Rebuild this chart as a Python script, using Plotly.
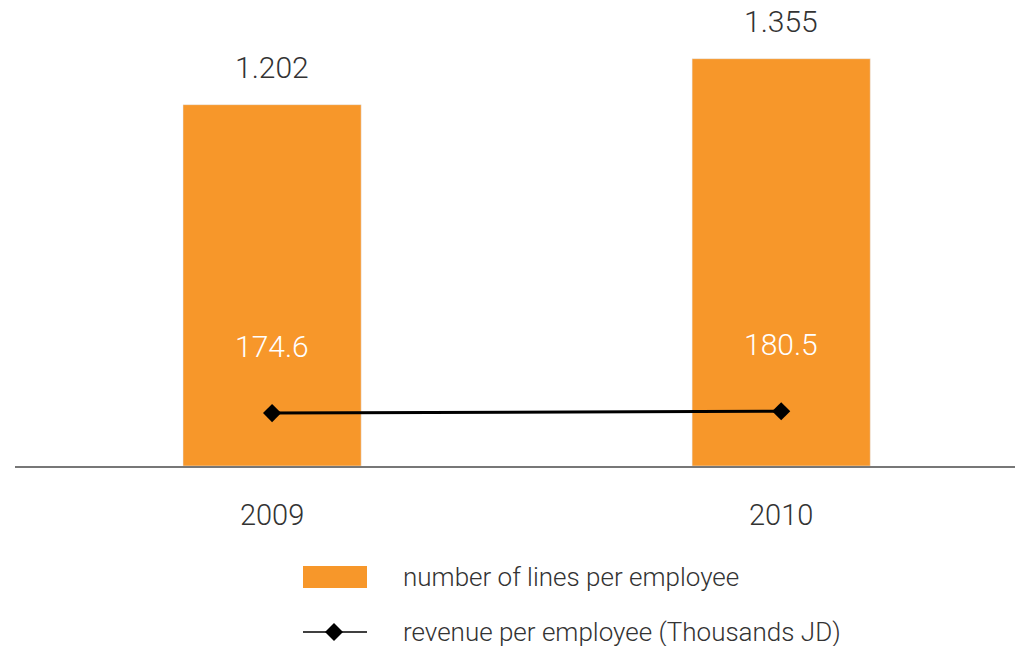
import plotly.graph_objects as go

years = ["2009", "2010"]
lines_per_employee = [1.202, 1.355]
lines_labels = ["1.202", "1.355"]
revenue_per_employee = [174.6, 180.5]
revenue_labels = ["174.6", "180.5"]

ORANGE = "#F7972A"
TEXT = "#333333"
FONT = "Roboto"

fig = go.Figure()
fig.add_trace(go.Bar(x=years, y=lines_per_employee, marker_color=ORANGE,
                     width=0.35, name="number of lines per employee", yaxis="y"))
fig.add_trace(go.Scatter(x=years, y=revenue_per_employee, mode="lines+markers",
                         line=dict(color="black", width=3),
                         marker=dict(symbol="diamond", size=14, color="black"),
                         name="revenue per employee (Thousands JD)", yaxis="y2"))

ann = []
for i, (v, t) in enumerate(zip(lines_per_employee, lines_labels)):
    ann.append(dict(x=i, y=v, xref="x", yref="y", text=t, showarrow=False,
                    yanchor="middle", yshift=37,
                    font=dict(family=FONT, size=30, color=TEXT, weight=300)))
for i, (v, t) in enumerate(zip(revenue_per_employee, revenue_labels)):
    ann.append(dict(x=i, y=v, xref="x", yref="y2", text=t, showarrow=False,
                    yanchor="middle", yshift=67,
                    font=dict(family=FONT, size=30, color="white", weight=300)))

# custom legend (page has an 8px body margin; positions in reference image px)
def px(xp):
    return (xp - 15) / 1008
def py(yp):
    return (466 - yp) / 458

shapes = [
    dict(type="rect", xref="paper", yref="paper", x0=px(303), x1=px(367),
         y0=py(588), y1=py(566), fillcolor=ORANGE, line=dict(width=0)),
    dict(type="line", xref="paper", yref="paper", x0=px(303), x1=px(367),
         y0=py(632), y1=py(632), line=dict(color="black", width=1.5)),
    dict(type="path", xref="paper", yref="paper", xsizemode="pixel", ysizemode="pixel",
         xanchor=px(334), yanchor=py(632),
         path="M -9 0 L 0 9 L 9 0 L 0 -9 Z", fillcolor="black", line=dict(width=0)),
]
ann.append(dict(x=px(401), y=py(577), xref="paper", yref="paper", xanchor="left",
                yanchor="middle", showarrow=False, text="number of lines per employee",
                font=dict(family=FONT, size=26, color=TEXT, weight=300)))
ann.append(dict(x=px(401), y=py(632), xref="paper", yref="paper", xanchor="left",
                yanchor="middle", showarrow=False, text="revenue per employee (Thousands JD)",
                font=dict(family=FONT, size=26, color=TEXT, weight=300)))

fig.update_layout(
    width=1015, height=638,
    margin=dict(l=7, r=0, t=0, b=180),
    plot_bgcolor="white", paper_bgcolor="white",
    showlegend=False,
    xaxis=dict(type="category", range=[-0.505, 1.475], showgrid=False,
               showline=True, linecolor="#777777", linewidth=1.5,
               ticks="outside", ticklen=22, tickcolor="rgba(0,0,0,0)",
               tickfont=dict(family=FONT, size=29, color=TEXT, weight=300)),
    yaxis=dict(range=[0, 1.5236], visible=False, showgrid=False),
    yaxis2=dict(range=[0, 1510], overlaying="y", visible=False, showgrid=False),
    annotations=ann, shapes=shapes,
)

fig.write_html("out.html")
